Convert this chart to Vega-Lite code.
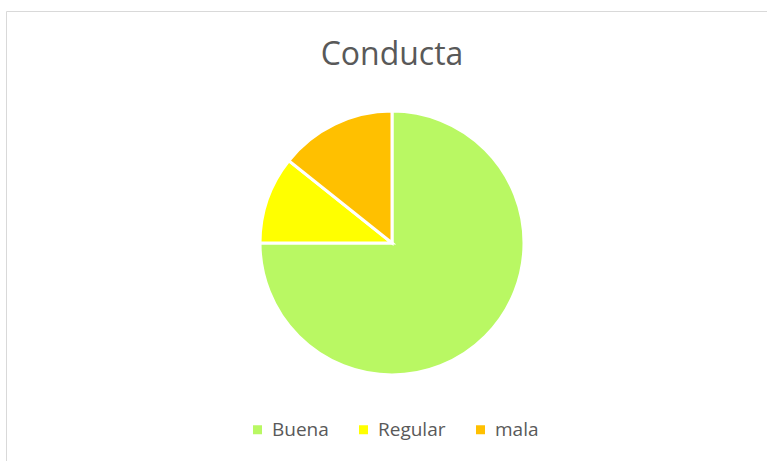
{
  "$schema": "https://vega.github.io/schema/vega-lite/v6.json",
  "autosize": "none",
  "padding": {"left": 6, "top": 11, "right": 0, "bottom": 0},
  "width": 772,
  "height": 464,
  "background": "white",
  "view": {"stroke": "#D9D9D9", "strokeWidth": 1, "fill": "white"},
  "config": {
    "font": "Open Sans"
  },
  "title": {
    "text": "Conducta",
    "fontSize": 32,
    "fontWeight": "normal",
    "color": "#595959",
    "font": "Open Sans",
    "anchor": "middle",
    "orient": "top",
    "offset": -61
  },
  "data": {
    "values": [
      {"categoria": "Buena", "valor": 21, "orden": 1},
      {"categoria": "Regular", "valor": 3, "orden": 2},
      {"categoria": "mala", "valor": 4, "orden": 3}
    ]
  },
  "mark": {"type": "arc", "outerRadius": 132, "stroke": "white", "strokeWidth": 3},
  "encoding": {
    "theta": {"field": "valor", "type": "quantitative", "stack": true},
    "order": {"field": "orden", "type": "quantitative"},
    "color": {
      "field": "categoria",
      "type": "nominal",
      "scale": {"domain": ["Buena", "Regular", "mala"], "range": ["#B9F863", "#FFFF00", "#FFC000"]},
      "legend": {
        "orient": "none",
        "legendX": 242,
        "legendY": 409,
        "direction": "horizontal",
        "title": null,
        "symbolType": "square",
        "symbolSize": 81,
        "symbolStrokeWidth": 0,
        "labelFontSize": 19,
        "labelColor": "#595959",
        "labelFont": "Open Sans",
        "labelOffset": 5,
        "columnPadding": 25
      }
    }
  }
}
